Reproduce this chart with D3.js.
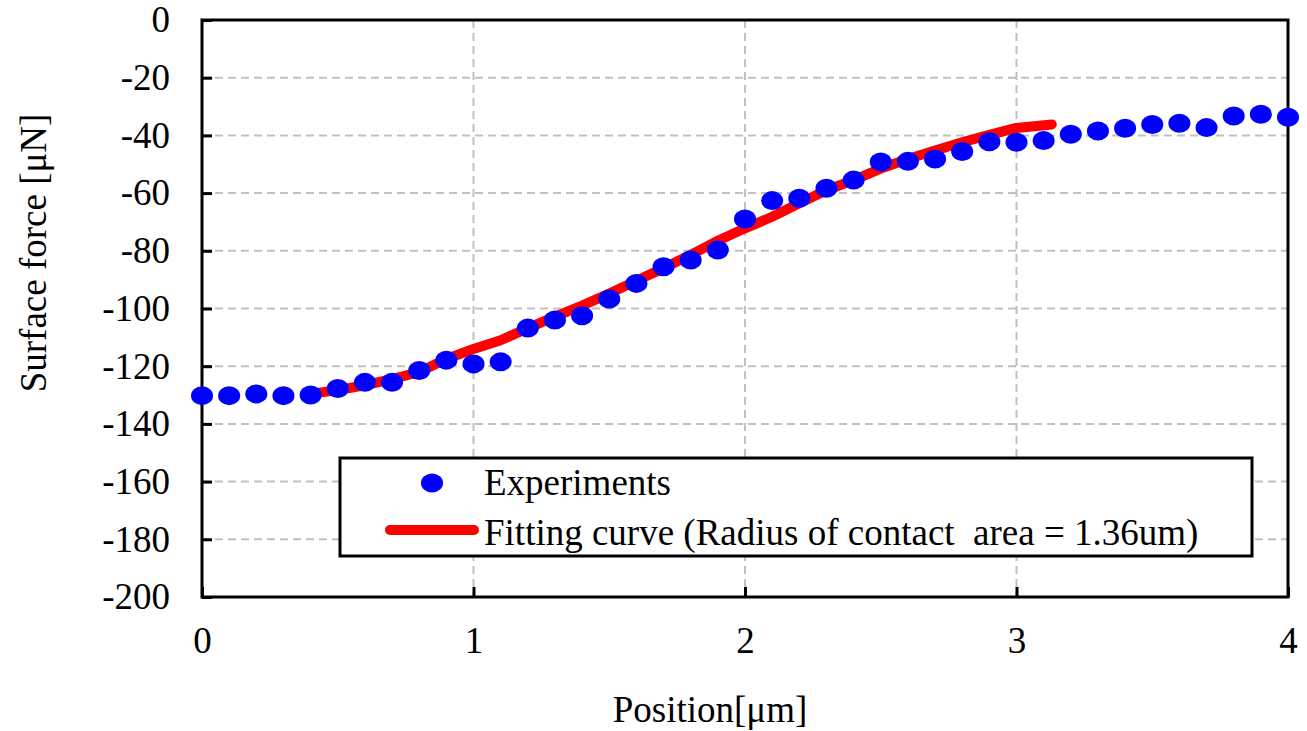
<!DOCTYPE html>
<html>
<head>
<meta charset="utf-8">
<script src="https://cdn.jsdelivr.net/npm/d3@7"></script>
<style>
    body { margin: 0; background: #fff; }
    svg text { font-family: "Liberation Serif", "Times New Roman", serif; fill: #000; }
</style>
</head>
<body>
<svg id="chart" width="1307" height="731"></svg>
<script>
// experiment positions (um) and measured surface force (uN)
const expPositions = [0, 0.1, 0.2, 0.3, 0.4, 0.5, 0.6, 0.7, 0.8, 0.9, 1.0, 1.1, 1.2, 1.3, 1.4, 1.5, 1.6, 1.7, 1.8, 1.9,
    2.0, 2.1, 2.2, 2.3, 2.4, 2.5, 2.6, 2.7, 2.8, 2.9, 3.0, 3.1, 3.2, 3.3, 3.4, 3.5, 3.6, 3.7, 3.8, 3.9, 4.0];
const expForces = [-130.2, -130.2, -129.6, -130.2, -130, -127.7, -125.6, -125.6, -121.5, -117.9, -119.2, -118.5, -106.8, -104, -102.5, -96.7, -91.3, -85.5, -83.2, -79.7,
    -69, -62.6, -61.8, -58.3, -55.5, -49.2, -49, -48.2, -45.6, -42.2, -42.4, -41.8, -39.6, -38.5, -37.5, -36.2, -35.8, -37.3, -33.3, -32.7, -33.7];

// fitted curve
const fitPositions = [0.4, 0.5, 0.6, 0.7, 0.8, 0.9, 1.0, 1.1, 1.2, 1.3, 1.4, 1.5, 1.6, 1.7, 1.8, 1.9, 2.0, 2.1, 2.2, 2.3, 2.4, 2.5, 2.6, 2.7, 2.8, 2.9, 3.0, 3.13];
const fitForces = [-129.6, -128.3, -126.6, -124.5, -122.0, -117.5, -114.0, -111.0, -106.8, -102.8, -99.0, -94.8, -90.4, -86.0, -81.4, -76.5,
    -72.2, -68.2, -63.5, -59.0, -55.5, -51.5, -48.2, -45.2, -42.4, -39.8, -37.4, -36.2];

const xTicks = [0, 1, 2, 3, 4];
const yTicks = [0, -20, -40, -60, -80, -100, -120, -140, -160, -180, -200];

const margin = { left: 202, top: 20, right: 19, bottom: 134 };
const width = 1307 - margin.left - margin.right;
const height = 731 - margin.top - margin.bottom;
const fontSize = 37;

const svg = d3.select('#chart');
const g = svg.append('g').attr('transform', 'translate(' + margin.left + ',' + margin.top + ')');

const x = d3.scaleLinear().domain([0, 4]).range([0, width]);
const y = d3.scaleLinear().domain([-200, 0]).range([height, 0]);

// grid
g.append('g')
    .selectAll('line')
    .data(yTicks.filter(d => d !== -200 && d !== 0))
    .enter().append('line')
        .attr('x1', 0).attr('x2', width)
        .attr('y1', d => y(d)).attr('y2', d => y(d))
        .attr('stroke', '#c0c0c0').attr('stroke-width', 2).attr('stroke-dasharray', '8,5');
g.append('g')
    .selectAll('line')
    .data(xTicks.filter(d => d !== 0 && d !== 4))
    .enter().append('line')
        .attr('x1', d => x(d)).attr('x2', d => x(d))
        .attr('y1', 0).attr('y2', height)
        .attr('stroke', '#c0c0c0').attr('stroke-width', 2).attr('stroke-dasharray', '8,5');

// axes
const yAxis = g.append('g')
    .call(d3.axisLeft(y).tickValues(yTicks).tickSizeInner(-10).tickSizeOuter(0).tickPadding(32).tickFormat(d => String(d)));
const xAxis = g.append('g')
    .attr('transform', 'translate(0,' + height + ')')
    .call(d3.axisBottom(x).tickValues(xTicks).tickSizeInner(-10).tickSizeOuter(0).tickPadding(30).tickFormat(d => String(d)));
[yAxis, xAxis].forEach(a => {
    a.select('.domain').remove();
    a.selectAll('line').attr('stroke', '#000').attr('stroke-width', 3);
    a.selectAll('text').attr('font-size', fontSize).style('font-family', '"Liberation Serif", serif');
});

// frame
g.append('rect')
    .attr('width', width).attr('height', height)
    .attr('fill', 'none').attr('stroke', '#000').attr('stroke-width', 3);

// fitting curve
const line = d3.line().x((d, i) => x(fitPositions[i])).y(d => y(d));
g.append('path')
    .datum(fitForces)
    .attr('d', line)
    .attr('fill', 'none').attr('stroke', '#ff0000').attr('stroke-width', 10)
    .attr('stroke-linecap', 'round').attr('stroke-linejoin', 'round');

// experiments
g.append('g')
    .selectAll('ellipse')
    .data(expForces)
    .enter().append('ellipse')
        .attr('cx', (d, i) => x(expPositions[i]))
        .attr('cy', d => y(d))
        .attr('rx', 11).attr('ry', 9.5)
        .attr('fill', '#0000ff');

// axis titles
svg.append('text')
    .attr('x', 710).attr('y', 722)
    .attr('text-anchor', 'middle').attr('font-size', fontSize)
    .text('Position[μm]');
svg.append('text')
    .attr('transform', 'translate(46,253) rotate(-90)')
    .attr('text-anchor', 'middle').attr('font-size', fontSize)
    .text('Surface force [μN]');

// legend
const legend = svg.append('g').attr('transform', 'translate(340,458)');
legend.append('rect')
    .attr('width', 912).attr('height', 98)
    .attr('fill', '#fff').attr('stroke', '#000').attr('stroke-width', 3);
legend.append('ellipse')
    .attr('cx', 92).attr('cy', 25).attr('rx', 11).attr('ry', 9.5).attr('fill', '#0000ff');
legend.append('text')
    .attr('x', 144).attr('y', 37).attr('font-size', fontSize).text('Experiments');
legend.append('line')
    .attr('x1', 50).attr('x2', 134).attr('y1', 72).attr('y2', 72)
    .attr('stroke', '#ff0000').attr('stroke-width', 10).attr('stroke-linecap', 'round');
legend.append('text')
    .attr('x', 144).attr('y', 87).attr('font-size', fontSize).text('Fitting curve (Radius of contact  area = 1.36um)')
    .style('white-space', 'pre');
</script>
</body>
</html>
